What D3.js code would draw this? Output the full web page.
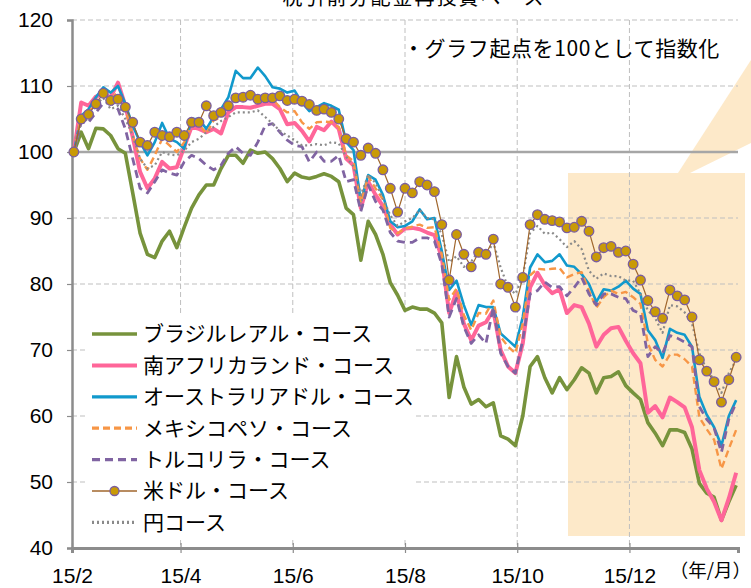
<!DOCTYPE html>
<html>
<head>
<meta charset="utf-8">
<script src="https://cdn.jsdelivr.net/npm/d3@7"></script>
<style>
  body { margin: 0; background: #fff; }
  svg { display: block; }
</style>
</head>
<body>
<svg id="chart" width="751" height="588"></svg>
<script>
// 4日おきの観測日
const dates = [
  '2015-02-02','2015-02-06','2015-02-10','2015-02-14','2015-02-18','2015-02-22','2015-02-26',
  '2015-03-02','2015-03-06','2015-03-10','2015-03-14','2015-03-18','2015-03-22','2015-03-26','2015-03-30',
  '2015-04-03','2015-04-07','2015-04-11','2015-04-15','2015-04-19','2015-04-23','2015-04-27',
  '2015-05-01','2015-05-05','2015-05-09','2015-05-13','2015-05-17','2015-05-21','2015-05-25','2015-05-29',
  '2015-06-02','2015-06-06','2015-06-10','2015-06-14','2015-06-18','2015-06-22','2015-06-26','2015-06-30',
  '2015-07-04','2015-07-08','2015-07-12','2015-07-16','2015-07-20','2015-07-24','2015-07-28',
  '2015-08-01','2015-08-05','2015-08-09','2015-08-13','2015-08-17','2015-08-21','2015-08-25','2015-08-29',
  '2015-09-02','2015-09-06','2015-09-10','2015-09-14','2015-09-18','2015-09-22','2015-09-26','2015-09-30',
  '2015-10-04','2015-10-08','2015-10-12','2015-10-16','2015-10-20','2015-10-24','2015-10-28',
  '2015-11-01','2015-11-05','2015-11-09','2015-11-13','2015-11-17','2015-11-21','2015-11-25','2015-11-29',
  '2015-12-03','2015-12-07','2015-12-11','2015-12-15','2015-12-19','2015-12-23','2015-12-27','2015-12-31',
  '2016-01-04','2016-01-08','2016-01-12','2016-01-16','2016-01-20','2016-01-24','2016-01-28'
]

const brl = [
  100,103,100.5,103.6,103.5,102.5,100.5,
  99.8,93.8,87.7,84.5,84,86.5,88,85.5,
  88.6,91.5,93.5,95,95,97.5,99.5,
  99.5,98.3,100.3,99.8,100,99,97.5,95.5,
  96.8,96.2,96,96.3,96.7,96.3,95.5,91.5,
  90.5,83.6,89.5,87.5,84.5,80.2,78.3,
  76,76.5,76.2,76.2,75.6,74.1,62.8,69,
  64.4,61.8,62.5,61.4,62,57,56.5,55.5,
  60,67.5,69,65.8,63.5,65.8,64,
  65.5,67.3,66.5,63.5,65.8,66,66.7,64.6,
  63.5,62.5,59,57.4,55.5,57.9,57.9,57.5,
  55,49.8,48.3,47.7,44.2,47,49.5
]
const zar = [
  100,107.5,107,108.4,108.8,108.3,110.5,
  107,102.3,97,94.5,96,98.5,97.5,97.7,
  100.8,103.8,103.5,103,103.5,102.8,106,
  106.8,106.8,106.7,107,107.3,107.3,106.5,104.2,
  104.4,103.2,101.6,103.8,103.3,104.6,103.5,99,
  98,91.5,95.5,93.5,91.8,89,87.5,
  88.4,88.5,88.3,87.8,87.4,84,75.6,78.8,
  74,71.5,73.7,74.2,76,70,67.5,66.5,
  71,79.5,81.7,79.8,78.6,79.2,75.6,
  76.8,76.5,74,70.5,72.3,73.3,73.5,71.4,
  69.5,68,60.5,61.5,59.8,62.8,62.1,61.3,
  58.3,51.8,49,47,44.2,47.5,51.4
]
const aud = [
  100,105.5,106.5,108.3,109.8,109,110,
  107.3,104,101.5,99.5,101.5,104.4,102,101.5,
  100.5,105,105,103.5,105.3,106.5,108.3,
  112.3,111.2,111.2,112.8,111.5,109.8,109.6,109,
  109.3,107.5,106.2,106.8,107.4,107,106.4,101.5,
  100.3,92.5,96.5,95.8,93.5,89.5,88.6,
  88.8,89.5,91.3,89.8,90,85,79.1,80.5,
  76.8,73.8,76.8,76.5,76.5,72.5,71.5,70.5,
  75,82.5,84.5,83.3,83.5,84.5,82.8,
  82.6,81.5,80,77.3,79.2,79,79.6,80.5,
  79.3,78.5,73,71.5,68.8,73.2,72.6,72.3,
  70.5,62.9,60.2,58.3,55.5,60,62.4
]
const mxn = [
  100,105.5,106,107.5,108.8,108.2,109,
  106.5,102.5,99,97.3,99.5,102,101,100,
  101.5,104,104.2,102.8,104.8,105.2,107.5,
  108.2,108.3,108.6,108.5,108.4,108,106.8,106,
  106.2,104.5,103.5,104.5,104.6,104.5,103.8,99.5,
  98.6,92.3,96.3,94.5,92.8,88.5,87.7,
  88.4,88.7,89,88.5,88.6,84.5,77.6,79.3,
  75.3,73,75.6,75.5,77.5,72,70.5,69.5,
  74,81.3,82.3,82.2,82.3,82.4,81,
  81.5,81.8,79,76.4,78,79,78.5,78.8,
  78,77,71,68.5,67.5,69.3,69.3,68.6,
  67.5,59.8,58,56.4,52,55,57.9
]
const tryl = [
  100,104.5,104.5,106,107.4,107.5,106.5,
  103.5,99,94.5,93.8,95.5,97.3,96.8,96.5,
  98.5,99.5,99,98,97.3,98,99.8,
  100.8,99.8,99.5,101.5,104,104.3,103,101.8,
  101,100.8,98.5,100,98.6,98.6,99.5,95.5,
  95.8,91,95,92.5,91.2,87.8,86.5,
  86.3,86.3,87,87,86.5,83,75,77.8,
  73.5,71,72.3,71,76.5,69.5,67.5,66.5,
  71.5,78.5,79,80.3,79.5,79.6,78.2,
  79.5,81,78.5,76.8,78.5,78.5,78,77.8,
  76,75.5,69,70.5,69.5,72.2,71.8,71.2,
  70.5,61.4,59.5,58.2,54.5,59.5,62
]
const usd = [
  100,105,105.7,107.3,108.9,107.8,108,
  106.8,104.5,101.5,101,103,102.5,102.3,103,
  102.5,104.5,104.5,107,105.5,106,107,
  108.2,108.3,108.6,108,108.2,108.2,108.5,107.8,
  108,107.7,107.2,106.3,106.5,106,105,102,
  101.5,99.5,100.6,99.8,97.3,94.5,90.9,
  94.5,93.8,95.5,95,94,89,80.6,87.5,
  84.5,82.6,84.8,84.5,86.8,80,79.5,76.5,
  81,89,90.5,89.8,89.6,89.4,88.5,
  88.6,89.5,88,84.1,85.5,85.7,84.8,85,
  83,80.6,77.5,75.8,74.8,79.1,78.2,77.6,
  75,68.5,66.8,65.2,62.1,65.5,68.9
]
const jpy = [
  100,104.5,105,107.2,108.2,106.5,107,
  105,102.5,99,97.5,98,100,99.6,99.5,
  100.2,101.5,102,103,103.8,104.7,105.3,
  106,106,106,106.3,105.3,104.3,103.2,102.5,
  101.8,101,101,101.2,101,101.5,101.3,99.3,
  97.8,93.5,96.5,95.3,93,90.4,88.8,
  89.5,90,91.2,90,89.8,87.5,83.3,84.2,
  82.6,83.4,85,84.3,86.3,82.5,79.5,78.5,
  81,87.7,88.8,87.6,87.8,86.8,85.6,
  86.5,85.3,82,80.8,81.6,81.2,81.2,80.5,
  80.5,78.5,76,74.8,72.6,76.8,76.6,75.7,
  74,69.5,67,65.5,63.5,66.5,68.5
]

const seriesNames = ['ブラジルレアル・コース','南アフリカランド・コース','オーストラリアドル・コース',
  'メキシコペソ・コース','トルコリラ・コース','米ドル・コース','円コース']
const yTicks = [40, 50, 60, 70, 80, 90, 100, 110, 120]
const xTickDates = ['2015-02-01','2015-04-01','2015-06-01','2015-08-01','2015-10-01','2015-12-01']
const xTickLabels = ['15/2','15/4','15/6','15/8','15/10','15/12']

const parse = d3.timeParse('%Y-%m-%d')
const jp = '"Noto Sans CJK JP", sans-serif'
const num = '"Liberation Sans", Arial, sans-serif'

const styles = [
  {color: '#77933C', width: 3.6, dash: null},
  {color: '#FF6699', width: 4, dash: null},
  {color: '#1199CC', width: 2.6, dash: null},
  {color: '#F79646', width: 2.4, dash: '7,4'},
  {color: '#8064A2', width: 2.8, dash: '8,5'},
  {color: '#A0662C', width: 1.2, dash: null, marker: true},
  {color: '#8A8A8A', width: 2.2, dash: '2,3'}
]
const values = [brl, zar, aud, mxn, tryl, usd, jpy]
const series = seriesNames.map((name, i) => ({
  name: name,
  style: styles[i],
  points: dates.map((d, j) => ({date: parse(d), value: values[i][j]}))
}))

const svg = d3.select('#chart')
const x = d3.scaleTime()
  .domain([parse('2015-02-01'), parse('2016-01-29')])
  .range([72, 738])
const y = d3.scaleLinear()
  .domain([40, 120])
  .range([548, 20])

// 注目期間の網掛け
svg.append('rect')
  .attr('x', 568).attr('y', 173)
  .attr('width', 177).attr('height', 363)
  .attr('fill', '#FDE9C9')
svg.append('polygon')
  .attr('points', '678,173 751,60 751,143 690,173')
  .attr('fill', '#FDE9C9')

// グリッド
const grid = svg.append('g')
grid.selectAll('.hgrid')
  .data(yTicks.filter(v => v !== 40 && v !== 100))
  .enter().append('line')
  .attr('x1', 72).attr('x2', 738)
  .attr('y1', d => y(d)).attr('y2', d => y(d))
  .attr('stroke', '#BFBFBF').attr('stroke-width', 1)
  .attr('stroke-dasharray', '5,3')
grid.selectAll('.vgrid')
  .data(xTickDates.slice(1))
  .enter().append('line')
  .attr('x1', d => x(parse(d))).attr('x2', d => x(parse(d)))
  .attr('y1', y(120)).attr('y2', y(40))
  .attr('stroke', '#BFBFBF').attr('stroke-width', 1)
  .attr('stroke-dasharray', '5,3')
svg.append('line')
  .attr('x1', 72).attr('x2', 738)
  .attr('y1', y(100)).attr('y2', y(100))
  .attr('stroke', '#A6A6A6').attr('stroke-width', 2.5)

// 軸
const yAxis = svg.append('g')
  .attr('transform', 'translate(72,0)')
  .call(d3.axisLeft(y).tickValues(yTicks).tickSize(5).tickPadding(14))
yAxis.select('.domain').attr('stroke', '#8C8C8C').attr('stroke-width', 2.5)
yAxis.selectAll('.tick line').attr('stroke', '#8C8C8C').attr('stroke-width', 1.2)
yAxis.selectAll('text')
  .attr('font-family', num).attr('font-size', 21).attr('fill', '#000')

const xAxis = svg.append('g')
  .attr('transform', 'translate(0,548)')
  .call(d3.axisBottom(x)
    .tickValues(xTickDates.map(parse))
    .tickSize(5)
    .tickFormat((d, i) => xTickLabels[i]))
xAxis.select('.domain').attr('stroke', '#8C8C8C').attr('stroke-width', 3)
xAxis.selectAll('.tick line').attr('stroke', '#8C8C8C').attr('stroke-width', 1.2).attr('y1', -5)
xAxis.selectAll('text')
  .attr('font-family', num).attr('font-size', 21).attr('fill', '#000')
  .attr('y', 20)

svg.append('text')
  .attr('x', 751).attr('y', 577)
  .attr('text-anchor', 'end')
  .attr('font-family', jp).attr('font-size', 18.5)
  .text('（年/月）')

// 凡例
const legend = svg.append('g')
legend.append('rect')
  .attr('x', 86).attr('y', 315).attr('width', 330).attr('height', 224)
  .attr('fill', '#fff')
const item = legend.selectAll('.item')
  .data(series)
  .enter().append('g')
  .attr('transform', (d, i) => 'translate(0,' + (334 + i * 31.4) + ')')
item.append('line')
  .attr('x1', 92).attr('x2', 137)
  .attr('stroke', d => d.style.color)
  .attr('stroke-width', d => d.style.marker ? 1.4 : Math.max(d.style.width, 3.2))
  .attr('stroke-dasharray', d => d.style.dash)
item.filter(d => d.style.marker).append('circle')
  .attr('cx', 114.5).attr('r', 4.5)
  .attr('fill', '#C99A06').attr('stroke', '#7B5EA0').attr('stroke-width', 1.3)
item.append('text')
  .attr('x', 143).attr('dy', '0.35em')
  .attr('font-family', jp).attr('font-size', 21).attr('fill', '#000')
  .text(d => d.name)

// 系列
const line = d3.line()
  .x(d => x(d.date))
  .y(d => y(d.value))
const drawOrder = [0, 1, 2, 3, 4, 6, 5]
drawOrder.forEach(i => {
  const s = series[i]
  svg.append('path')
    .datum(s.points)
    .attr('fill', 'none')
    .attr('stroke', s.style.color)
    .attr('stroke-width', s.style.width)
    .attr('stroke-dasharray', s.style.dash)
    .attr('stroke-linejoin', 'round')
    .attr('d', line)
  if (s.style.marker) {
    svg.append('g').selectAll('circle')
      .data(s.points)
      .enter().append('circle')
      .attr('cx', d => x(d.date))
      .attr('cy', d => y(d.value))
      .attr('r', 4.8)
      .attr('fill', '#C99A06')
      .attr('stroke', '#7B5EA0')
      .attr('stroke-width', 1.3)
  }
})

// 注記
svg.append('text')
  .attr('x', 403).attr('y', 56)
  .attr('font-family', jp).attr('font-size', 21).attr('letter-spacing', 0.6)
  .text('・グラフ起点を100として指数化')
svg.append('text')
  .attr('x', 403).attr('y', 5)
  .attr('text-anchor', 'middle')
  .attr('font-family', jp).attr('font-size', 20).attr('letter-spacing', 2)
  .text('・税引前分配金再投資ベース')
</script>
</body>
</html>
